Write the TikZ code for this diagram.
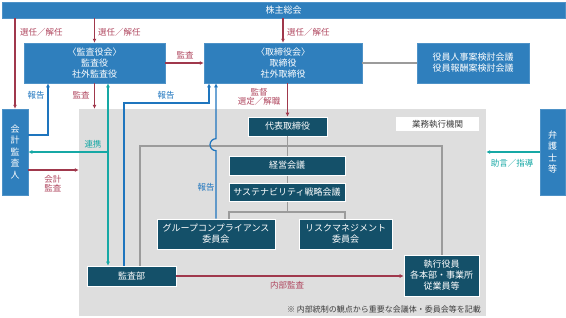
\documentclass[tikz,border=0pt]{standalone}
\usepackage{fontspec}
\setmainfont{Noto Sans CJK JP}
\usetikzlibrary{arrows.meta}
\definecolor{bbox}{RGB}{47,127,189}
\definecolor{dbox}{RGB}{20,80,105}
\definecolor{redl}{RGB}{160,56,76}
\definecolor{redt}{RGB}{176,72,96}
\definecolor{tealc}{RGB}{22,168,165}
\definecolor{bluel}{RGB}{30,117,190}
\definecolor{graybg}{RGB}{222,222,222}
\definecolor{grayl}{RGB}{155,155,155}
\definecolor{txtd}{RGB}{60,60,60}
\tikzset{
  bluebox/.style={fill=bbox, draw=bbox!85!white, line width=0.5pt, text=white, inner sep=0, align=center, font=\fontsize{9}{11}\selectfont},
  darkbox/.style={fill=dbox, draw=white, line width=0.6pt, text=white, inner sep=0, align=center, font=\fontsize{9}{11}\selectfont},
  lab/.style={inner sep=0, align=center, font=\fontsize{8.5}{10}\selectfont},
  redarr/.style={draw=redl, line width=1.2pt, -{Latex[length=4pt,width=4pt]}},
  bluearr/.style={draw=bluel, line width=1.2pt, -{Latex[length=4pt,width=4pt]}},
  tealarr/.style={draw=tealc, line width=1.2pt, -{Latex[length=4pt,width=4pt]}},
  grayline/.style={draw=grayl, line width=1.3pt},
}
\begin{document}
\begin{tikzpicture}[x=1pt,y=-1pt]
\useasboundingbox (0,0) rectangle (566,317);
% area
\node[fill=graybg, inner sep=0, minimum width=407, minimum height=207] (area) at (282.5,212.5) {};
% coordinates
\coordinate (xR) at (48,0);
\coordinate (xT) at (108,0);
\coordinate (xBl) at (124,0);
\coordinate (xBl2) at (209,0);
\coordinate (xH) at (216,0);
\coordinate (xG) at (140,0);
\coordinate (xGr) at (442,0);
\coordinate (xL) at (229,0);
\coordinate (xR2) at (345,0);
\coordinate (yRep) at (0,135);
\coordinate (yRen) at (0,152);
\coordinate (yKai) at (0,170);
\coordinate (yBl) at (0,103);
\coordinate (yF) at (0,146);
\coordinate (yS) at (0,212);
% nodes
\node[bluebox, minimum width=563, minimum height=16] (kabu) at (283.5,10) {株主総会};
\node[bluebox, minimum width=141, minimum height=40] (kansayaku) at (94.5,63) {〈監査役会〉\\監査役\\社外監査役};
\node[bluebox, minimum width=158, minimum height=40] (tori) at (283,63) {〈取締役会〉\\取締役\\社外取締役};
\node[bluebox, minimum width=112, minimum height=40] (yakuin) at (473,63) {役員人事案検討会議\\役員報酬案検討会議};
\node[bluebox, minimum width=26, minimum height=86, font=\fontsize{9}{11.5}\selectfont] (kaikei) at (15,152) {会\\計\\監\\査\\人};
\node[bluebox, minimum width=25, minimum height=86, font=\fontsize{9}{11.5}\selectfont] (bengo) at (552.5,152) {弁\\護\\士\\等};
\node[fill=white, inner sep=0, minimum width=83, minimum height=14, text=txtd, font=\fontsize{8.5}{10}\selectfont] (gyomu) at (437.5,124) {業務執行機関};
% dark boxes (positions first, drawn on top of gray lines via layering order below)
\node[darkbox, minimum width=79, minimum height=19] (daihyo) at (287.5,126.5) {代表取締役};
\node[darkbox, minimum width=89, minimum height=20] (kansabu) at (131.5,276) {監査部};
\node[darkbox, minimum width=75, minimum height=41] (shikko) at (441.5,275.5) {執行役員\\各本部・事業所\\従業員等};
\node[darkbox, minimum width=118, minimum height=30] (group) at (216,234) {グループコンプライアンス\\委員会};
\node[darkbox, minimum width=93, minimum height=30] (risk) at (345.5,234) {リスクマネジメント\\委員会};
% gray lines
\draw[grayline] (tori.east) -- (yakuin.west);
\draw[grayline] (kansabu.north -| xG) -- (xG |- yF) -- (xGr |- yF) -- (shikko.north -| xGr);
\draw[grayline] (daihyo.south) -- (daihyo.south |- yS);
\draw[grayline] (group.north -| xL) -- (xL |- yS) -- (xR2 |- yS) -- (risk.north -| xR2);
% boxes on the gray trunk
\node[darkbox, minimum width=116, minimum height=19] (keiei) at (287,165.5) {経営会議};
\node[darkbox, minimum width=116, minimum height=18] (sus) at (287,192) {サステナビリティ戦略会議};
% red arrows
\draw[redarr] (kabu.south -| kaikei.north) -- (kaikei.north);
\draw[redarr] (kabu.south -| kansayaku.north) -- (kansayaku.north);
\draw[redarr] (kabu.south -| tori.north) -- (tori.north);
\draw[redarr] (kansayaku.east) -- (tori.west);
\draw[redarr] (kansayaku.south) -- (area.north -| kansayaku.south);
\draw[redarr] (tori.south -| daihyo.north) -- (daihyo.north);
\draw[redarr] (kansabu.east) -- (shikko.west |- kansabu.east);
\draw[redarr] (kaikei.east |- yKai) -- (area.west |- yKai);
% blue
\draw[bluearr] (kaikei.east |- yRep) -| (kansayaku.south -| xR);
\draw[bluearr] (kansabu.north -| xBl) -- (xBl |- yBl) -| (tori.south -| xBl2);
\draw[bluearr] (group.north -| xH) -- ++(0,-68) arc[start angle=90, end angle=270, radius=6] -- (tori.south -| xH);
% teal
\draw[tealarr, {Latex[length=4pt,width=4pt]}-{Latex[length=4pt,width=4pt]}] (kansayaku.south -| xT) -- (kansabu.north -| xT);
\draw[tealarr] (xT |- yRen) -- (kaikei.east |- yRen);
\draw[tealarr] (bengo.west) -- (area.east |- bengo.west);
% labels
\node[lab, text=redt, anchor=west] (l1) at (20,32) {選任／解任};
\node[lab, text=redt, anchor=west] (l2) at (98,32) {選任／解任};
\node[lab, text=redt, anchor=west] (l3) at (287,32) {選任／解任};
\node[lab, text=redt] (l4) at (185,55) {監査};
\node[lab, text=bluel] (l5) at (36,95) {報告};
\node[lab, text=redt] (l6) at (81,95) {監査};
\node[lab, text=bluel] (l7) at (166,95) {報告};
\node[lab, text=redt, font=\fontsize{8.5}{9}\selectfont] (l8) at (259,97) {監督\\選定／解職};
\node[lab, text=tealc] (l9) at (93,144) {連携};
\node[lab, text=redt, font=\fontsize{8.5}{9.5}\selectfont] (l10) at (53,183.5) {会計\\監査};
\node[lab, text=bluel] (l11) at (206,187) {報告};
\node[lab, text=redt] (l12) at (287,285) {内部監査};
\node[lab, text=tealc] (l13) at (512,163) {助言／指導};
\node[lab, text=txtd, anchor=east, font=\fontsize{8}{10}\selectfont] (l14) at (481,309) {※ 内部統制の観点から重要な会議体・委員会等を記載};
\end{tikzpicture}
\end{document}
